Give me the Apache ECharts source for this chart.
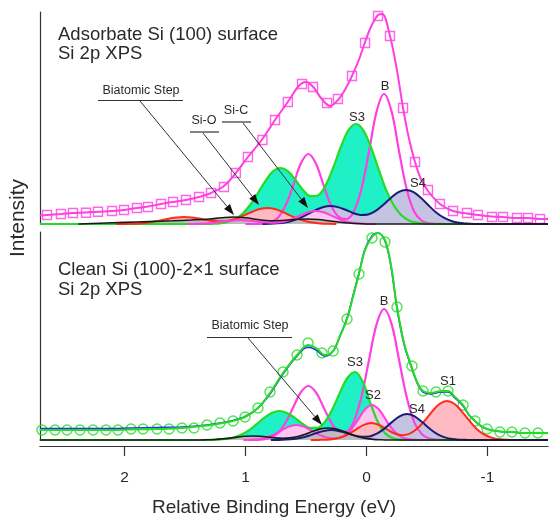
<!DOCTYPE html>
<html>
<head>
<meta charset="utf-8">
<script src="https://cdn.jsdelivr.net/npm/echarts@6/dist/echarts.min.js"></script>
<style>html,body{margin:0;padding:0;background:#fff}#c{width:549px;height:519px}</style>
</head>
<body>
<div id="c"></div>
<script>
// ---------- DATA (energy in eV, intensity in arbitrary units) ----------
const energyTicks = [-1, 0, 1, 2];

// Top panel: Adsorbate Si(100)
const topB = [[-0.65,0],[-0.583,0.1],[-0.52,0.6],[-0.458,3.2],[-0.395,12.2],[-0.333,34.5],[-0.27,72],[-0.208,112.2],[-0.145,130],[-0.083,112.2],[-0.02,72],[0.043,34.5],[0.105,12.6],[0.168,5],[0.23,7.2],[0.293,18.6],[0.355,38.8],[0.418,60.4],[0.48,70],[0.543,60.4],[0.605,38.8],[0.668,18.6],[0.73,6.6],[0.793,1.7],[0.855,0.3],[0.918,0],[1.0,0]];
const topS3 = [[-1.5,0],[-0.54,0],[-0.476,0.4],[-0.413,1.3],[-0.351,3.6],[-0.288,8.8],[-0.226,18.5],[-0.163,33.9],[-0.101,54.4],[-0.038,76.3],[0.025,93.5],[0.087,100],[0.15,93.7],[0.212,77],[0.275,56.4],[0.337,38.8],[0.4,28.8],[0.462,27.8],[0.525,34.1],[0.587,44],[0.65,52.8],[0.712,56],[0.775,52.4],[0.837,42.7],[0.9,30.5],[0.962,19],[1.025,10.3],[1.087,4.9],[1.15,2],[1.212,0.7],[1.275,0.2],[1.34,0],[2.7,0]];
const topS4 = [[-1.5,0],[-0.95,0],[-0.889,0.1],[-0.826,0.5],[-0.764,1.2],[-0.701,3],[-0.639,6.3],[-0.576,11.5],[-0.514,18.5],[-0.451,25.9],[-0.389,31.8],[-0.326,34],[-0.264,31.9],[-0.201,26.1],[-0.139,19.2],[-0.076,13.1],[-0.014,9.6],[0.049,9.1],[0.112,11],[0.174,14.2],[0.237,16.9],[0.299,18],[0.362,16.8],[0.424,13.7],[0.487,9.8],[0.549,6.1],[0.612,3.3],[0.674,1.6],[0.737,0.7],[0.799,0.2],[0.86,0]];
const topSiO = [[0.25,0],[0.32,0.2],[0.383,0.6],[0.445,1.4],[0.508,3],[0.57,5.4],[0.633,8.7],[0.695,12.2],[0.758,15],[0.82,16],[0.883,15],[0.945,12.2],[1.008,8.8],[1.07,5.7],[1.133,3.6],[1.195,2.7],[1.258,3],[1.32,4],[1.383,5.4],[1.445,6.6],[1.508,7],[1.57,6.6],[1.633,5.3],[1.695,3.8],[1.758,2.4],[1.82,1.3],[1.883,0.6],[1.945,0.3],[2.008,0.1],[2.07,0]];
const topSiC = [[-0.08,0],[-0.018,0.1],[0.045,0.4],[0.108,1.1],[0.17,2.6],[0.233,5.3],[0.295,8.7],[0.358,11.8],[0.42,13],[0.483,11.8],[0.545,8.7],[0.608,5.3],[0.67,2.8],[0.733,1.4],[0.795,1.2],[0.858,1.7],[0.92,2.7],[0.983,3.6],[1.045,4],[1.108,3.6],[1.17,2.7],[1.233,1.6],[1.295,0.8],[1.358,0.3],[1.42,0.1],[1.48,0]];
const topStep = [[-1.5,0],[0,0],[0.1,0.5],[0.2,1.5],[0.3,3],[0.4,4.5],[0.5,5],[0.6,4.5],[0.7,3.5],[0.8,3.2],[0.9,4.5],[1.0,6.2],[1.1,7],[1.2,6.2],[1.3,5],[1.45,4],[1.6,3.2],[1.8,2.4],[2.0,1.6],[2.2,0.8],[2.38,0]];
const topEnvelope = [[2.70,8.5],[2.64,9],[2.525,10],[2.426,11],[2.318,11.5],[2.219,12.3],[2.103,13],[2.004,14],[1.897,16],[1.806,17.5],[1.698,20],[1.599,22],[1.492,24],[1.384,27],[1.285,31],[1.178,38],[1.08,51],[0.98,67],[0.86,85],[0.756,104],[0.645,123],[0.56,138],[0.5,142],[0.44,137],[0.37,125],[0.3,118],[0.236,124],[0.17,136],[0.12,148],[0.06,165],[0.012,182],[-0.04,198],[-0.095,209],[-0.13,210],[-0.194,188],[-0.25,155],[-0.302,116],[-0.35,86],[-0.401,62],[-0.45,45],[-0.508,33],[-0.607,20],[-0.715,13],[-0.831,10.5],[-0.921,9],[-1.037,7.5],[-1.128,7],[-1.244,6],[-1.335,6],[-1.434,5],[-1.5,5]];
const topSquares = [[2.64,9],[2.525,10],[2.426,11],[2.318,11.3],[2.219,12.3],[2.103,13],[2.004,14],[1.897,16],[1.806,17],[1.698,20],[1.599,22],[1.492,24],[1.384,27],[1.285,31],[1.178,37],[1.08,51],[0.98,67],[0.86,84],[0.756,104],[0.65,122],[0.533,140],[0.442,137],[0.326,121],[0.236,125],[0.12,148],[0.012,181],[-0.095,208],[-0.194,188],[-0.302,116],[-0.401,62],[-0.508,34],[-0.607,20],[-0.715,13],[-0.831,11],[-0.921,9],[-1.037,7],[-1.128,7],[-1.244,6],[-1.335,6],[-1.434,5]];

// Bottom panel: Clean Si(100)-2x1
const botB = [[-0.65,0],[-0.583,0.3],[-0.52,1.5],[-0.458,5.8],[-0.395,17.7],[-0.333,42.5],[-0.27,79.5],[-0.208,115.6],[-0.145,131],[-0.083,115.6],[-0.02,79.5],[0.043,42.6],[0.105,18.3],[0.168,8.1],[0.23,8.8],[0.293,17.8],[0.355,32.8],[0.418,47.7],[0.48,54],[0.543,47.7],[0.605,32.8],[0.668,17.5],[0.73,7.3],[0.793,2.4],[0.855,0.6],[0.918,0.1],[0.98,0]];
const botS3 = [[-1.5,0],[-0.4,0],[-0.343,0.05],[-0.28,0.3],[-0.218,1.7],[-0.155,6.4],[-0.093,18],[-0.03,37.7],[0.033,58.7],[0.095,68],[0.158,62],[0.22,47.3],[0.283,30.5],[0.345,17.9],[0.408,12.1],[0.47,12.2],[0.533,16.5],[0.595,22.3],[0.658,27.1],[0.72,29],[0.783,27.1],[0.845,22.1],[0.908,15.8],[0.97,9.8],[1.033,5.4],[1.095,2.5],[1.158,1.1],[1.22,0.4],[1.283,0.1],[1.35,0],[2.7,0]];
const botS2 = [[-0.48,0],[-0.42,0.1],[-0.358,0.6],[-0.295,2.6],[-0.233,8.2],[-0.17,18.3],[-0.108,29.8],[-0.045,35],[0.018,29.8],[0.08,18.3],[0.143,8.3],[0.205,2.8],[0.268,1.4],[0.33,2.5],[0.393,5.3],[0.455,9.5],[0.518,13.4],[0.58,15],[0.643,13.4],[0.705,9.5],[0.768,5.3],[0.83,2.4],[0.893,0.8],[0.955,0.2],[1.018,0]];
const botS1 = [[-1.5,0],[-1.23,0],[-1.165,0.2],[-1.103,0.7],[-1.04,2.1],[-0.978,5.1],[-0.915,10.6],[-0.853,18.8],[-0.79,28.2],[-0.728,36],[-0.665,39],[-0.603,36],[-0.54,28.2],[-0.478,18.9],[-0.415,10.9],[-0.353,6.1],[-0.29,4.8],[-0.228,6.7],[-0.165,10.9],[-0.103,15.1],[-0.04,17],[0.023,15.1],[0.085,10.7],[0.148,6],[0.21,2.7],[0.273,1],[0.335,0.3],[0.398,0.1],[0.46,0]];
const botS4 = [[-1.5,0],[-0.9,0],[-0.835,0.1],[-0.773,0.3],[-0.71,0.9],[-0.648,2.6],[-0.585,5.9],[-0.523,11.3],[-0.46,17.9],[-0.398,23.7],[-0.335,26],[-0.273,23.7],[-0.21,17.9],[-0.148,11.4],[-0.085,6.3],[-0.023,3.5],[0.04,3.2],[0.103,4.6],[0.165,7],[0.228,9.1],[0.29,10],[0.353,9.1],[0.415,6.9],[0.478,4.3],[0.54,2.3],[0.603,1],[0.665,0.4],[0.728,0.1],[0.79,0]];
const botStep = [[-1.5,0],[-0.18,0],[-0.12,0.2],[-0.057,0.6],[0.006,1.6],[0.068,3.3],[0.131,5.8],[0.193,8.7],[0.256,11.1],[0.318,12],[0.381,11.1],[0.443,8.7],[0.506,5.8],[0.568,3.5],[0.631,2.1],[0.693,1.7],[0.756,2.1],[0.818,3],[0.881,3.7],[0.943,4],[1.006,3.7],[1.068,2.9],[1.131,1.9],[1.193,1.1],[1.256,0.5],[1.318,0.2],[1.38,0],[2.7,0]];
const botFit = [[2.7,11.5],[2.574,11.5],[2.368,11.5],[2.153,11.5],[1.946,12],[1.731,12.5],[1.525,13],[1.318,15],[1.21,17],[1.103,19.5],[1.004,23.5],[0.897,32],[0.798,46],[0.69,66],[0.574,84],[0.483,93],[0.417,90],[0.343,84],[0.276,89],[0.219,104],[0.161,122],[0.112,144],[0.062,167],[0.012,191],[-0.045,204],[-0.095,207],[-0.153,199],[-0.202,174],[-0.252,132],[-0.31,96],[-0.376,71],[-0.426,55],[-0.467,48],[-0.525,46],[-0.574,47],[-0.624,48],[-0.674,48],[-0.731,42],[-0.798,34],[-0.847,25],[-0.897,19],[-0.946,14],[-0.996,11],[-1.103,8.5],[-1.202,8],[-1.31,7],[-1.417,7],[-1.5,7]];
const botEnvelope = [[2.7,10],[2.574,10],[2.368,10],[2.153,10],[1.946,10.5],[1.731,11],[1.525,12],[1.318,14.5],[1.21,16.5],[1.103,19],[1.004,23],[0.897,32],[0.798,47],[0.69,67],[0.574,85],[0.483,95],[0.417,92],[0.343,85],[0.276,89],[0.219,104],[0.161,121],[0.112,143],[0.062,166],[0.012,190],[-0.045,203],[-0.095,207],[-0.153,200],[-0.202,175],[-0.252,133],[-0.31,97],[-0.376,72],[-0.426,56],[-0.467,49],[-0.525,47],[-0.574,48],[-0.624,49],[-0.674,49],[-0.731,43],[-0.798,35],[-0.847,25],[-0.897,19],[-0.946,14],[-0.996,11],[-1.103,8.5],[-1.202,8],[-1.31,7],[-1.417,7],[-1.5,7]];
const botCircles = [[2.682,10],[2.574,10],[2.475,10],[2.368,10],[2.26,10],[2.153,10],[2.054,10],[1.946,11],[1.847,11],[1.731,11],[1.632,11],[1.525,12],[1.426,12],[1.318,15],[1.211,17],[1.103,19],[1.004,23],[0.897,32],[0.798,48],[0.69,68],[0.574,85],[0.483,97],[0.368,87],[0.276,89],[0.161,121],[0.062,166],[-0.045,202],[-0.153,198],[-0.252,133],[-0.376,74],[-0.467,49],[-0.574,48],[-0.674,49],[-0.798,35],[-0.897,19],[-0.996,11],[-1.103,8],[-1.202,8],[-1.31,7],[-1.417,7]];

// ---------- STYLE ----------
const C = {
  green: '#22dd22', cyan: '#1ff0c6', magenta: '#ff3fe0', navy: '#1c1c78', lav: '#c4c4e2',
  red: '#ff2a1a', pink: '#ffb9c2', pink2: '#ffc4f0', gray: '#bcbcbc', black: '#1a1a1a', blue: '#2a2aff'
};
const FONT = '"Liberation Sans", Arial, Helvetica, sans-serif';
const TXT = '#2a2a2a';

function curve(data, gi, line, fill, width) {
  const s = {
    type: 'line', data: data, xAxisIndex: gi, yAxisIndex: gi, smooth: 0.35,
    showSymbol: false, symbol: 'none', clip: false, silent: true, animation: false,
    lineStyle: { color: line, width: width || 2 }
  };
  if (fill) s.areaStyle = { color: fill, opacity: 1 };
  return s;
}
function markers(data, gi, symbol, color, size) {
  return {
    type: 'scatter', data: data, xAxisIndex: gi, yAxisIndex: gi, symbol: symbol, symbolSize: size,
    silent: true, animation: false, clip: false,
    itemStyle: { color: 'rgba(0,0,0,0)', borderColor: color, borderWidth: 1.4 }
  };
}

const chart = echarts.init(document.getElementById('c'), null, { renderer: 'canvas' });

const xBase = { type: 'value', min: -1.5, max: 2.7, inverse: true, splitLine: { show: false } };
const yBase = { type: 'value', min: 0, axisLabel: { show: false }, axisTick: { show: false }, splitLine: { show: false },
  axisLine: { show: true, onZero: false, lineStyle: { color: '#333', width: 1.2 } } };

function arrow(x1, y1, x2, y2) {
  const dx = x2 - x1, dy = y2 - y1, L = Math.sqrt(dx * dx + dy * dy);
  const ux = dx / L, uy = dy / L, hl = 11, hw = 3.8;
  const bx = x2 - ux * hl, by = y2 - uy * hl;
  return [
    { type: 'line', z: 100, shape: { x1: x1, y1: y1, x2: bx, y2: by }, style: { stroke: '#333', lineWidth: 1 }, silent: true },
    { type: 'polygon', z: 100, shape: { points: [[x2, y2], [bx - uy * hw, by + ux * hw], [bx + uy * hw, by - ux * hw]] }, style: { fill: '#111' }, silent: true }
  ];
}
function label(text, x, y, size, align) {
  return { type: 'text', z: 100, x: x, y: y, silent: true, style: { text: text, fontFamily: FONT, fontSize: size, fill: TXT, align: align || 'center', verticalAlign: 'middle' } };
}
function hline(x1, x2, y) {
  return { type: 'line', z: 100, shape: { x1: x1, y1: y, x2: x2, y2: y }, style: { stroke: '#333', lineWidth: 1.2 }, silent: true };
}

const graphics = [
  label('Adsorbate Si (100) surface', 58, 35, 18.5, 'left'),
  label('Si 2p XPS', 58, 54, 18.5, 'left'),
  label('Clean Si (100)-2\u00d71 surface', 58, 270, 18.5, 'left'),
  label('Si 2p XPS', 58, 290, 18.5, 'left'),
  label('Biatomic Step', 141, 91, 12.5),
  hline(98, 183, 100.5),
  label('Si-O', 204, 121, 12.5),
  hline(190, 219, 132),
  label('Si-C', 236, 111, 12.5),
  hline(222, 251, 122),
  label('Biatomic Step', 250, 326, 12.5),
  hline(207, 292, 337.5),
  label('B', 385, 86, 13), label('S3', 357, 117, 13), label('S4', 418, 183, 13),
  label('B', 384, 301, 13), label('S3', 355, 362, 13), label('S2', 373, 395, 13), label('S4', 417, 409, 13), label('S1', 448, 381, 13),
  label('Relative Binding Energy (eV)', 274, 508, 19),
  { type: 'text', z: 100, x: 18, y: 218, rotation: Math.PI / 2, silent: true,
    style: { text: 'Intensity', fontFamily: FONT, fontSize: 21, fill: TXT, align: 'center', verticalAlign: 'middle' } }
].concat(arrow(140, 101, 234, 215), arrow(203, 133, 259, 205), arrow(243, 123, 308, 208), arrow(248, 338, 322, 425));

chart.setOption({
  animation: false,
  backgroundColor: '#fff',
  grid: [
    { left: 39.8, width: 508.2, top: 12, height: 212 },
    { left: 39.8, width: 508.2, top: 232, height: 208 }
  ],
  xAxis: [
    Object.assign({}, xBase, { gridIndex: 0, show: false }),
    Object.assign({}, xBase, { gridIndex: 1, position: 'bottom', offset: 6,
      axisLine: { show: true, onZero: false, lineStyle: { color: '#333', width: 1.2 } },
      axisTick: { show: true, inside: false, length: 10, customValues: energyTicks, lineStyle: { color: '#333', width: 1.2 } },
      axisLabel: { show: true, customValues: energyTicks, fontSize: 15.5, margin: 24, color: TXT, fontFamily: FONT } })
  ],
  yAxis: [
    Object.assign({}, yBase, { gridIndex: 0, max: 212 }),
    Object.assign({}, yBase, { gridIndex: 1, max: 208 })
  ],
  series: [
    curve(topB, 0, C.magenta, null, 2.2),
    curve(topS3, 0, C.green, C.cyan, 2.2),
    curve(topS4, 0, C.navy, C.lav, 2),
    curve(topSiO, 0, C.red, C.pink, 2),
    curve(topSiC, 0, C.magenta, C.pink2, 2),
    curve(topStep, 0, C.black, C.gray, 1.6),
    curve(topEnvelope, 0, C.magenta, null, 2),
    markers(topSquares, 0, 'rect', C.magenta, 9),

    curve(botB, 1, C.magenta, null, 2.2),
    curve(botS3, 1, C.green, C.cyan, 2.2),
    curve(botS2, 1, C.magenta, C.pink2, 2),
    curve(botS1, 1, C.red, C.pink, 2),
    curve(botS4, 1, C.navy, C.lav, 2),
    curve(botStep, 1, C.black, C.gray, 1.6),
    curve(botFit, 1, C.blue, null, 1.6),
    curve(botEnvelope, 1, C.green, null, 2),
    markers(botCircles, 1, 'circle', C.green, 10)
  ],
  graphic: graphics
});
</script>
</body>
</html>
